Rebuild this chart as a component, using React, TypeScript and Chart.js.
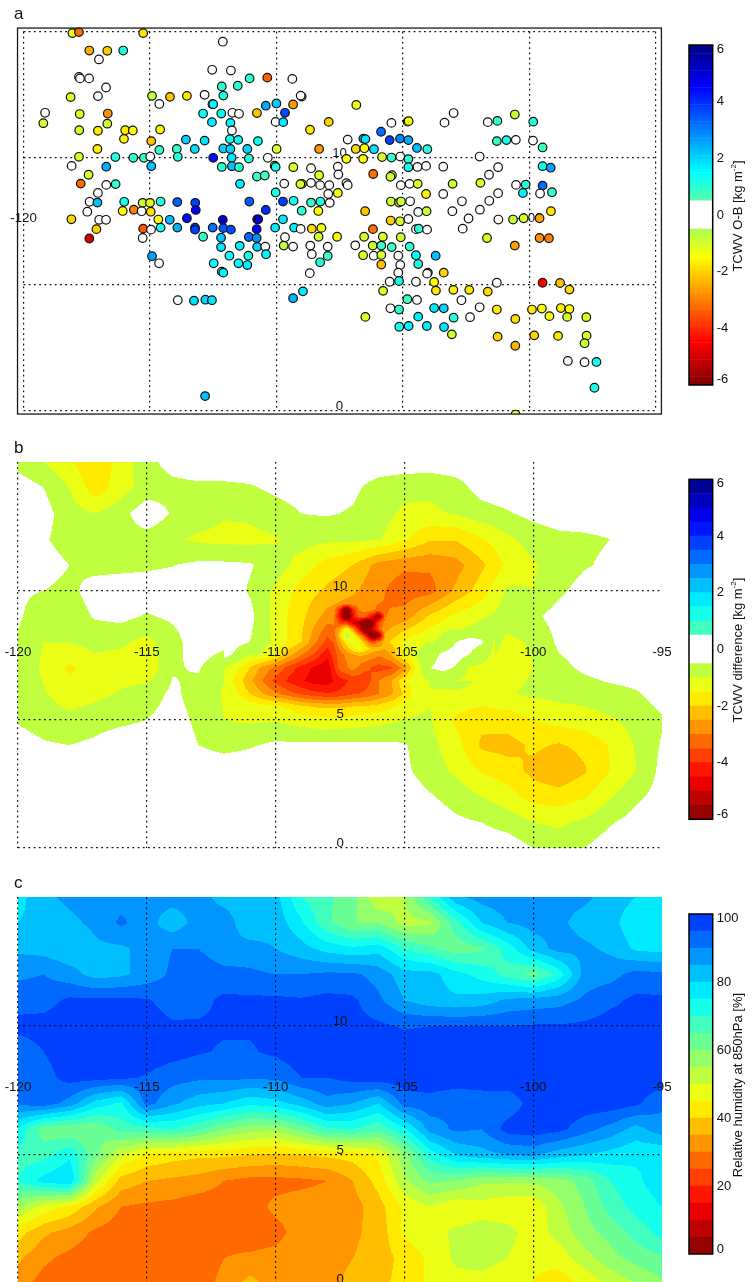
import React, { useEffect, useRef } from "react";
import { Chart, registerables } from "chart.js";

Chart.register(...registerables);

const FONT = '"Liberation Sans", Arial, sans-serif';
const INK = "#111111";

// ---- Panel a: observations (longitude, latitude, TCWV O-B) ----
const obsLon = [
-118.07,-117.81,-115.27,-112.12,-117.4,-116.69,-116.06,-117.02,-112.54,-111.8,-117.81,-117.77,-117.41,-116.74,-117.06,-118.14,-112.16,-111.53,-114.92,-114.21,-113.54,-112.84,-112.1,-114.63,-112.53,-112.5,
-119.15,-119.22,-117.78,-116.67,-116.69,-112.9,-112.18,-111.74,-111.48,-112.55,-111.82,-117.8,-117.06,-115.98,-115.68,-116.03,-114.6,-111.76,-114.95,-113.58,-112.84,-111.84,-111.51,-117.08,-114.63,-113.94,-113.23,-112.1,-111.82,
-117.81,-116.37,-115.66,-115.24,-114.99,-113.9,-112.5,-111.77,-118.1,-116.73,-114.95,-112.16,-111.76,-111.48,-117.43,-117.74,-116.73,-116.36,-111.44,-117.06,
-117.39,-117.08,-116.02,-115.29,-115,-114.58,-113.92,-113.21,-113.19,-111.07,-117.48,-116.08,-115.64,-115.33,-114.97,-118.11,-117.01,-116.74,-114.67,-114.22,-113.54,-112.12,-110.76,-117.12,-115.27,-114.96,-114.58,-113.92,-113.22,-113.22,-112.52,-112.1,-111.8,-110.78,
-117.4,-115.29,-112.9,-112.19,-111.09,-110.78,-112.19,-111.45,-110.76,-114.92,-114.64,-111.86,-111.11,-112.48,-111.5,-111.15,-112.16,-112.1,-113.9,-113.26,-112.81,-112.55,-112.82,
-111.06,-110.36,-109.37,-109,-109.04,-110.42,-110,-109.34,-106.84,-109.66,-110.77,-110.03,-109.73,-107.93,-105.45,-104.81,-104.77,-102.99,-103.35,-108.67,-105.86,-107.18,-106.56,-106.48,-105.52,-105.11,-104.78,-110.73,-111.15,-109.99,-108.31,-106.86,-106.52,-106.14,-104.44,-104.03,
-111.09,-110.34,-107.23,-106.57,-105.82,-105.45,-105.1,-104.78,-110.07,-110.03,-109.33,-108.63,-107.57,-104.78,-104.42,-104.08,-103.4,-107.55,-108.31,-110.77,-110.46,-106.17,-105.43,-105.49,-109.69,-108.99,-109.05,-108.63,-108.27,-107.91,-107.23,-107.18,-105.08,-104.73,-104.41,-103.03,
-110.03,-107.95,-107.57,-104.08,-103.4,-109.74,-109.32,-108.63,-108.26,-107.89,-105.47,-105.15,-105.07,-104.71,-102.66,-110.42,-109,-108.34,-106.49,-104.39,-104.06,-103.04,-110.72,-109.74,-105.48,-105.11,-104.78,-102.4,-110.05,-109.3,-109.04,-108.6,-108.22,-106.18,-104.48,-104.37,-104.04,-102.63,-109.66,-108.33,-107.6,-106.53,-105.79,-105.08,
-109.71,-109.34,-108.66,-107.97,-106.88,-106.19,-105.85,-105.44,-104.73,-110.44,-108.6,-107.97,-106.57,-106.15,-105.85,-105.18,-104.48,-103.7,-110.41,-108.27,-105.85,-105.1,-104.39,-108.68,-105.18,-104.01,-104.04,-103.38,-105.52,-105.15,-104.48,-103.76,-108.95,-105.78,-103.69,-103,-102.37,-109.34,-104.82,-104.44,-102.68,-105.49,-105.15,-103.76,-103.38,-102.34,-106.48,-104.39,-102.99,-105.14,-104.77,-104.05,-103.37,-103.06,
-101.28,-99.47,-98.78,-98.41,-101.64,-101.96,-101.28,-100.55,-99.89,-99.5,-99.2,-98.75,-98.41,-98.5,-97.74,-101.25,-100.55,-99.8,-98.86,-97.73,-97.81,-98.47,-97.81,-97.34,-97.42,-100.54,
-101.64,-101.26,-100.57,-99.84,-101.28,-100.9,-100.53,-99.85,-99.47,-101.96,-101.23,-99.47,-99.15,-101.59,-101.93,-100.52,-100.14,-99.47,-101.23,-100.25,-99.57,-99.1,-101.58,-101.95,-101.22,-100.64,-100.22,-99.59,-99.14,-101.67,-99.59,-99.22,-100.57,
];
const obsLat = [
14.94,14.98,14.94,14.6,14.25,14.24,14.25,13.9,13.49,13.46,13.21,13.15,13.15,12.79,12.45,12.41,12.83,12.86,12.46,12.42,12.46,12.5,12.47,12.14,12.13,12.13,
11.79,11.38,11.74,11.76,11.36,11.76,11.76,11.79,11.75,11.42,11.39,11.1,11.08,11.1,11.09,10.76,11.13,11.09,10.67,10.73,10.69,10.75,10.72,10.36,10.32,10.36,10.36,10.38,10.36,
10.05,10.04,10.01,10.01,10.06,10.05,10.01,10.01,9.69,9.66,9.68,9.65,9.68,9.64,9.34,8.99,8.94,8.97,8.98,8.62,
8.27,8.24,8.27,8.23,8.23,8.28,8.26,8.23,7.95,8.28,7.88,7.91,7.96,7.9,7.88,7.58,7.56,7.56,7.57,7.56,7.62,7.56,7.58,7.19,7.21,7.17,7.25,7.25,7.25,7.17,7.25,7.23,7.17,7.19,
6.82,6.84,6.89,6.85,6.88,6.84,6.48,6.53,6.49,6.12,5.84,6.14,6.14,5.84,5.84,5.77,5.51,5.47,4.38,4.36,4.4,4.38,0.59,
13.15,13.18,13.13,12.43,12.47,12.07,12.16,12.12,12.1,11.79,11.78,11.43,11.42,11.43,11.39,11.44,11.46,11.78,11.4,11.12,11.04,10.73,10.77,10.75,10.71,10.77,10.71,10.67,10.36,10.36,10.36,10.36,10.39,10.35,10.4,10.35,
9.98,10.01,9.97,9.97,10.04,10.02,10.06,9.96,9.7,9.65,9.64,9.6,9.66,9.64,9.65,9.69,9.66,9.35,9.32,9.27,9.31,9.37,9.32,9.26,8.99,8.98,8.97,9.02,8.93,8.93,9.01,8.93,8.93,8.98,8.98,8.98,
8.64,8.58,8.62,8.58,8.58,8.28,8.31,8.24,8.28,8.23,8.28,8.24,8.28,8.29,8.29,7.95,7.92,7.91,7.9,7.87,7.9,7.9,7.58,7.58,7.53,7.5,7.59,7.61,7.25,7.25,7.2,7.21,7.24,7.19,7.19,7.21,7.17,7.21,6.87,6.89,6.89,6.89,6.89,6.87,
6.54,6.5,6.54,6.5,6.55,6.54,6.54,6.48,6.5,6.5,6.2,6.13,6.16,6.14,6.17,6.14,6.16,6.14,6.2,5.88,5.79,5.77,5.81,5.45,5.47,5.47,5.43,5.47,5.11,5.14,5.11,5.1,4.73,4.75,4.76,4.79,4.79,4.46,4.42,4.39,4.38,4.06,4.01,4.07,4.06,3.71,3.72,3.73,3.69,3.33,3.36,3.36,3.32,3.03,
5.07,5.07,5.06,4.8,4.72,4.1,4.01,3.64,4.01,4.05,3.75,4.07,4.03,3.72,3.71,2.94,2.58,2.99,2.97,2.98,2.68,1.98,1.93,1.94,0.92,-0.14,
11.42,11.47,11.72,11.44,10.67,10.71,10.72,10.69,10.42,10.06,9.64,9.68,9.62,9.34,9.02,8.94,8.95,8.91,8.61,8.62,8.6,8.65,8.31,7.96,7.57,7.57,7.62,7.62,7.9,6.84,6.84,6.83,6.54,
];
const obsTcwv = [
-1.2,-3.2,-1.8,0,-2.4,-2.1,1.2,0,0,0,0,0,0,0,0,-1.1,0.9,1,-0.8,-2.2,-1.7,0,1.2,0,0,1.6,
0,-1,-1.2,-2.8,-1,1.4,1.4,0,0,1.7,1.6,-1,-1.7,-1.7,-1.5,-1.6,-1.6,0,-2.2,2,1.8,1.2,1.4,-1.7,0.9,0.9,1.9,2,2,
-1,1.1,1,0.8,0,1.1,4.3,1.8,0,2.4,2.2,1,2.2,1,-1,-3.3,0,0.9,1.7,0,
0,2.2,1.2,-0.9,-1.1,1.1,3.4,3.7,4.6,3.4,0,-1.5,-3,0,-1.9,-2,0,0,-1.5,2.3,4.4,5,4.8,-2.1,-3.5,0,1.3,2.4,3.6,3.8,3.2,3.5,3.6,4.5,
-5,0,0.9,2.2,3.2,2.8,1.8,1.6,2,2.6,0,1.4,1.2,1.5,1.6,1.7,1.1,1.6,0,1.9,2,1.8,2.2,
1,-3.4,0,-2,0,2.5,2.1,-2.7,-1.3,3.7,-2.2,0,1.7,-2,0,-1.1,-1.4,0,0,-1.8,3.2,0,2.4,1.8,3.7,2.9,2.5,1.3,2,-1.1,-2.7,-2,-1.5,1.8,2.3,1.1,
1.1,0,-1.5,-1.5,-1,0.9,0,0.9,-1.7,1.2,-1.1,0,0,1.2,0,0,0,0,-1.1,0.9,0.8,-3.2,-1,-0.9,0,-1,-1.1,0,0,0,0,0,0,0,-1.1,-0.9,
1.2,0,-1.3,-1.6,0,3.8,1.3,0.9,1.2,0,-0.9,-1,-0.9,0,0,4,1,-1.5,-2.2,0,-0.9,0,5,1.8,-2.1,-1,0,0,1.7,1.7,0,-2,-1.3,-3.2,0,1,0,0,0,-0.9,-1.4,-1,-1.1,-0.9,
-0.8,0,0,0,0,-1,0.8,0.8,1,0,0,0.9,-1.1,0,-1,0,1.5,2.2,1.6,1.1,-2.3,0,1.2,0,0,-1,0,-2,0,1.2,0,-1.5,1.7,-1.1,-1.8,-1.7,-1.8,2.4,0.8,0,0,0,1,1.8,2,0,-1.1,1.7,1.1,1.3,1.6,1.7,1.8,-0.9,
0,-4.6,-2.2,-1.9,-1.9,0,-1.7,-1.9,-1.8,-1.5,-1.4,-1.7,-1.5,-1,-1.1,-2,-2.4,-2,-1.8,-1.1,-0.9,0,0,1.3,1.2,-1,
0,0.9,-0.9,1.1,0.9,1.2,0,0,0.8,0,0,1.3,2.6,0,-1.2,0,1,3.2,0,1.6,0,0.9,0,0,0,-0.8,-1.1,-2.6,-1.8,-1.1,-2.8,-3,-2.6,
];

// ---- Panels b, c: gridded fields, one row per latitude, one column per longitude ----
const gridLons = [-120,-119,-118,-117,-116,-115,-114,-113,-112,-111,-110,-109,-108,-107,-106,-105,-104,-103,-102,-101,-100,-99,-98,-97,-96,-95];
const gridLats = [15,14,13,12,11,10,9,8,7,6,5,4,3,2,1,0];

const tcwvDifference = [
[-0.7,-1,-1.45,-1.9,-1.3,-0.65,-0.3,-0.2,-0.2,-0.2,-0.2,-0.2,-0.2,-0.2,-0.2,-0.2,-0.2,-0.2,-0.2,-0.2,-0.2,-0.2,-0.2,-0.2,-0.2,-0.2],
[-0.2,-0.5,-1,-1.8,-1.2,-0.8,-0.65,-0.6,-0.6,-0.55,-0.4,-0.3,-0.3,-0.4,-0.7,-0.85,-0.9,-0.7,-0.3,-0.2,-0.2,-0.2,-0.2,-0.2,-0.2,-0.2],
[-0.2,-0.3,-0.8,-1,-0.7,-0.15,-0.55,-0.7,-0.95,-0.9,-0.7,-0.5,-0.45,-0.55,-0.8,-1.1,-1.1,-0.95,-0.7,-0.55,-0.35,-0.2,-0.2,-0.2,-0.2,-0.2],
[-0.2,-0.45,-0.7,-0.75,-0.7,-0.7,-0.9,-1.1,-1.15,-1.15,-1.05,-0.8,-0.9,-0.9,-0.95,-1.4,-1.95,-1.95,-1.55,-1.1,-0.8,-0.65,-0.6,-0.5,-0.2,-0.2],
[-0.2,-0.3,-0.5,-0.65,-0.65,-0.6,-0.52,-0.4,-0.4,-0.45,-0.75,-1.2,-1.7,-2,-2.7,-2.9,-2.9,-2.7,-2.1,-1.4,-1.05,-0.8,-0.55,-0.4,-0.2,-0.2],
[-0.45,-0.5,-0.62,-0.3,-0.2,-0.2,-0.2,-0.2,-0.2,-0.55,-1.1,-1.7,-2.1,-2.4,-2.9,-3.3,-3.2,-2.4,-1.75,-0.9,-1,-0.6,-0.3,-0.2,-0.2,-0.2],
[-0.45,-0.7,-0.75,-0.45,-0.35,-0.55,-0.4,-0.2,-0.2,-0.35,-1.2,-1.85,-2.7,-3,-3.1,-2.8,-1.9,-1.35,-1.05,-0.8,-0.6,-0.3,-0.2,-0.2,-0.2,-0.2],
[-0.55,-1,-0.98,-0.85,-0.92,-1.15,-0.72,-0.15,-0.3,-0.5,-1.1,-2,-3.7,-2.8,-2.5,-1.35,-0.95,-0.75,-0.65,-1.1,-0.95,-0.4,-0.2,-0.2,-0.2,-0.2],
[-0.6,-1.1,-1.6,-1.2,-1.25,-1.4,-0.55,-0.45,-0.95,-2,-3.1,-4.2,-4.9,-2.8,-3.7,-2.8,-0.55,-0.45,-1.05,-1.2,-1,-0.65,-0.4,-0.2,-0.2,-0.2],
[-0.6,-0.95,-1.3,-1.15,-0.95,-0.75,-0.4,-0.7,-1.05,-2,-2.9,-3.6,-3.95,-3.6,-3,-1.9,-1.1,-1.1,-1.15,-1.05,-0.9,-0.85,-0.8,-0.7,-0.55,-0.3],
[-0.55,-0.7,-0.85,-0.7,-0.62,-0.5,-0.3,-0.6,-1,-1.1,-1.05,-1.25,-1.4,-1.3,-1.2,-1,-0.95,-1.6,-1.85,-1.75,-1.5,-1.3,-1.2,-1.05,-0.8,-0.55],
[-0.3,-0.45,-0.5,-0.4,-0.2,-0.2,-0.2,-0.5,-0.65,-0.55,-0.4,-0.4,-0.4,-0.4,-0.4,-0.45,-0.85,-1.3,-2.1,-2.2,-1.9,-2.05,-1.85,-1.45,-0.95,-0.45],
[-0.2,-0.2,-0.2,-0.2,-0.2,-0.2,-0.2,-0.2,-0.2,-0.2,-0.2,-0.2,-0.2,-0.2,-0.2,-0.4,-0.75,-1.1,-1.55,-1.75,-2.15,-2.45,-2.05,-1.5,-1,-0.35],
[-0.2,-0.2,-0.2,-0.2,-0.2,-0.2,-0.2,-0.2,-0.2,-0.2,-0.2,-0.2,-0.2,-0.2,-0.2,-0.2,-0.45,-0.7,-1,-1.3,-1.7,-1.75,-1.55,-1.05,-0.6,-0.3],
[-0.2,-0.2,-0.2,-0.2,-0.2,-0.2,-0.2,-0.2,-0.2,-0.2,-0.2,-0.2,-0.2,-0.2,-0.2,-0.2,-0.2,-0.4,-0.5,-0.7,-1,-1.1,-0.9,-0.55,-0.3,-0.2],
[-0.2,-0.2,-0.2,-0.2,-0.2,-0.2,-0.2,-0.2,-0.2,-0.2,-0.2,-0.2,-0.2,-0.2,-0.2,-0.2,-0.2,-0.2,-0.2,-0.2,-0.5,-0.7,-0.5,-0.2,-0.2,-0.2],
];

// Finer sampling of the low-value lobe of panel b
const lobeLons = [-112,-111.5,-111,-110.5,-110,-109.5,-109,-108.5,-108,-107.5,-107,-106.5,-106,-105.5,-105,-104.5,-104];
const lobeLats = [8,7.5,7,6.5,6,5.5,5];
const tcwvDifferenceLobe = [
[-0.3,-0.4,-0.5,-0.8,-1.1,-1.55,-2,-2.85,-3.7,-3.25,-2.8,-2.65,-2.5,-1.9,-1.35,-1.15,-0.95],
[-0.35,-0.6,-0.95,-1.05,-1.6,-2.3,-3,-3.6,-4.4,-3.2,-2.7,-2.6,-3,-2.5,-1.4,-0.95,-0.7],
[-0.95,-1.35,-2,-2.7,-3.1,-3.7,-4.2,-4.6,-4.9,-3.3,-2.8,-3.4,-3.7,-3.6,-2.8,-1.2,-0.55],
[-1.15,-1.7,-2.4,-3,-3.7,-4.1,-4.45,-4.7,-4.8,-4.2,-3.9,-3.8,-3,-2.5,-1.6,-1.1,-1],
[-1.05,-1.45,-2,-2.5,-2.9,-3.3,-3.6,-3.85,-3.95,-3.9,-3.6,-3.4,-3,-2.6,-1.9,-1.2,-1.1],
[-1.05,-1.1,-1.2,-1.3,-1.45,-1.6,-1.9,-2.05,-2.1,-2.1,-2,-1.95,-1.8,-1.55,-1.3,-1.1,-1],
[-1,-1.15,-1.1,-1.1,-1.05,-1.15,-1.25,-1.3,-1.4,-1.4,-1.3,-1.2,-1.2,-1.1,-1,-0.95,-0.95],
];

// Finer sampling of the small core of panel b
const coreLons = [-107.75,-107.5,-107.25,-107,-106.75,-106.5,-106.25,-106,-105.75];
const coreLats = [9.5,9.25,9,8.75,8.5,8.25,8,7.75,7.5,7.25];
const tcwvDifferenceCore = [
[-2.5,-2.6,-2.7,-2.7,-2.75,-2.85,-2.95,-3,-3],
[-2.65,-4.2,-7,-4.2,-3,-2.8,-2.9,-3.1,-3],
[-2.77,-4.6,-7,-4.5,-3.2,-3.4,-4.5,-6,-3],
[-3,-3.7,-3.8,-5,-5.6,-7.2,-6,-3.5,-2.8],
[-3.2,-2.5,-1.2,-2.6,-4.5,-7.2,-5,-3.5,-2.6],
[-3.35,-2,-0.7,-1.2,-2.6,-4.2,-6.6,-6.2,-2.4],
[-3.47,-2.6,-1.7,-1.1,-1.4,-2.5,-3.5,-3,-2.2],
[-3.7,-2.9,-2.3,-1.6,-1.3,-1.7,-2.2,-2.3,-2.5],
[-3.8,-3.2,-2.9,-2.6,-2.4,-2.5,-2.7,-2.9,-2.8],
[-3.95,-3.25,-3,-2.75,-2.88,-3,-3.18,-3.35,-3.2],
];

// Finer sampling round the long gap of panel b
const gapLons = [-104,-103.5,-103,-102.5,-102,-101.5];
const gapLats = [8.5,8,7.5,7,6.5];
const tcwvDifferenceGap = [
[-1.3,-1.05,-1,-0.95,-0.7,-0.85],
[-1.05,-0.85,-0.5,-0.3,-0.45,-1.05],
[-0.7,-0.4,-0.3,-0.5,-0.8,-1.1],
[-0.5,-0.35,-0.55,-1.05,-1.1,-1.2],
[-1,-0.9,-1,-1.1,-1.15,-1.15],
];

const humidity850 = [
[78,84,86,87,88,87,87,87,83,82,82,70,66,62,50,55,70,84,87,88,88,87,86,83,80,76],
[80,82,84,86,91,87,82,87,88,81,83,76,66,60,60,53,54,68,80,85,87,86,83,82,76,75],
[84,83,81,84,84,87,90,90,86,87,85,82,78,76,78,70,66,62,64,72,82,87,86,84,79,78],
[89,90,87,83,84,87,91,94,92,91,90,90,91,91,88,82,82,77,73,68,63,72,87,88,92,91],
[93,93,96,96,96,95.5,93,93.5,96,96,96,95.5,96.5,96,91,85,82,81,82,86,87,88,91,94,96,96],
[96.5,97,98,98,98,97,95.6,95.6,95.6,95.6,96,97,98,97,96,94.5,95,95,95,95,95.5,95.5,96,97,96,96],
[92,95,98,98,98,98,97,95.5,94.5,94.5,96,98,98,98,98,98,98,98,98,98,98,98,98,97,95,97],
[91,93,97,97,96,94.5,92,91,91,91,91,95,95,97,98,98,98,98,98,98,98,98,98,98,98,98],
[91,93,88,78,74,92,86,82,80,76,78,82,88,85,80,92,93,91,92,92,97,98,98,98,96,91],
[74,62,60,60,67,68,70,66,60,57,56,62,69,70,66,74,87,91,90,97,98,96.5,92,88,83,88],
[68,68,74,62,50,44,42,41,41,40,39,40,41,42,46,58,72,80,83,85,86,82,80,78,76,75],
[70,77,80,52,38,35,34,33,30,28.5,28.5,29,30,35,42,54,61,60,56,56,56,58,62,70,74,78],
[56,48,44,36,30,29,28.5,27,27,28,31,32,32,33,38,46,50,46,48,46,46,54,60,67,72,75],
[42,36,33,29,27,27,27,28,28,27,28.5,32,33,34,37,46,48,51,52,52,47,52,58,62,67,72],
[36,31,28.5,27,26,27,27,28,30,31,31.5,32.5,33.5,35,37,42,46,51,52,50,46,47,53,58,62,64],
[32,28,27,27,27,27,27.5,28.5,31,37,32,33,34,36,38.5,42,46,48,48,46,45,42,46,51,55,59],
];

// ---- Axis labels ----
const lonTicksA = [-120, -100];
const latTicksA = [0, 10];
const lonTicksFull = [-120, -115, -110, -105, -100, -95];
const latTicksFull = [0, 5, 10];
const tcwvBarTicks = [5.86, 4, 2, 0, -2, -4, -5.82];
const tcwvBarLabels = ["6", "4", "2", "0", "-2", "-4", "-6"];
const rhBarTicks = [98.7, 80, 60, 40, 20, 1.4];
const rhBarLabels = ["100", "80", "60", "40", "20", "0"];

// ---- Colour map ----
const clamp01 = (v: number) => Math.max(0, Math.min(1, v));
function jet(t: number) {
  const r = clamp01(1.5 - Math.abs(4 * t - 3));
  const g = clamp01(1.5 - Math.abs(4 * t - 2));
  const b = clamp01(1.5 - Math.abs(4 * t - 1));
  return `rgb(${Math.round(r * 255)},${Math.round(g * 255)},${Math.round(b * 255)})`;
}
const tcwvColor = (v: number) => (Math.abs(v) < 0.5 ? "#ffffff" : jet((6 - v) / 12));
const bandColor = (k: number) => jet((23 - k + 0.5) / 24);
const tcwvBand = (v: number) => {
  const k = Math.max(0, Math.min(23, Math.floor((v + 6) / 0.5)));
  return k === 11 || k === 12 ? null : bandColor(k);
};
const rhBand = (v: number) => bandColor(Math.max(0, Math.min(19, Math.floor(v / 5))));

// ---- Field sampling for the filled contours ----
function bilinear(lons: number[], lats: number[], rows: number[][], lon: number, lat: number) {
  if (lon < lons[0] || lon > lons[lons.length - 1] || lat > lats[0] || lat < lats[lats.length - 1]) return null;
  let i = 0;
  while (i < lons.length - 2 && lon > lons[i + 1]) i++;
  let j = 0;
  while (j < lats.length - 2 && lat < lats[j + 1]) j++;
  const u = (lon - lons[i]) / (lons[i + 1] - lons[i]);
  const w = (lats[j] - lat) / (lats[j] - lats[j + 1]);
  return (
    rows[j][i] * (1 - u) * (1 - w) +
    rows[j][i + 1] * u * (1 - w) +
    rows[j + 1][i] * (1 - u) * w +
    rows[j + 1][i + 1] * u * w
  );
}

const contourPlugin = (sample: (lon: number, lat: number) => number | null, band: (v: number) => string | null) => ({
  id: "contourFill",
  beforeDraw(chart: any) {
    const { ctx, chartArea, scales } = chart;
    const x0 = Math.round(chartArea.left);
    const x1 = Math.round(chartArea.right);
    ctx.save();
    for (let py = Math.round(chartArea.top); py < chartArea.bottom; py++) {
      const lat = scales.y.getValueForPixel(py + 0.5);
      let start = x0;
      let current: string | null = null;
      for (let px = x0; px <= x1; px++) {
        const v = px < x1 ? sample(scales.x.getValueForPixel(px + 0.5), lat) : null;
        const c = v === null ? null : band(v);
        if (c !== current || px === x1) {
          if (current) {
            ctx.fillStyle = current;
            ctx.fillRect(start, py, px - start, 1);
          }
          start = px;
          current = c;
        }
      }
    }
    ctx.restore();
  },
});

const framePlugin = {
  id: "mapFrame",
  afterDraw(chart: any) {
    const { ctx, scales } = chart;
    const l = scales.x.getPixelForValue(-120.24);
    const r = scales.x.getPixelForValue(-94.77);
    const t = scales.y.getPixelForValue(15.14);
    const b = scales.y.getPixelForValue(-0.12);
    ctx.save();
    ctx.strokeStyle = "#1a1a1a";
    ctx.lineWidth = 1.3;
    ctx.strokeRect(l, t, r - l, b - t);
    ctx.restore();
  },
};

const barFramePlugin = {
  id: "barFrame",
  afterDraw(chart: any) {
    const { ctx, chartArea: a } = chart;
    ctx.save();
    ctx.strokeStyle = "#000";
    ctx.lineWidth = 1.5;
    ctx.strokeRect(a.left, a.top, a.right - a.left, a.bottom - a.top);
    ctx.restore();
  },
};

function mapScales(lonLabels: number[], latLabels: number[], hideEdges: boolean) {
  const dotted = (edge: number) => (ctx: any) =>
    hideEdges && ctx.tick && ctx.tick.value === edge ? "rgba(0,0,0,0)" : "#111111";
  return {
    x: {
      type: "linear",
      min: -120,
      max: -95,
      position: { y: 7.93 },
      grid: { color: dotted(-95), lineWidth: 1.2, drawTicks: false },
      border: { display: false, dash: [1.8, 3.4] },
      ticks: {
        stepSize: 5,
        autoSkip: false,
        maxRotation: 0,
        padding: 0,
        color: INK,
        font: { family: FONT, size: 13.3 },
        callback: (v: number) => (lonLabels.includes(v) ? String(v) : ""),
      },
    },
    y: {
      type: "linear",
      min: 0,
      max: 15,
      position: { x: -107.21 },
      grid: { color: dotted(15), lineWidth: 1.2, drawTicks: false },
      border: { display: false, dash: [1.8, 3.4] },
      ticks: {
        stepSize: 5,
        autoSkip: false,
        padding: 0,
        labelOffset: -4.5,
        color: INK,
        font: { family: FONT, size: 13.3 },
        callback: (v: number) => (latLabels.includes(v) ? (v < 10 ? `${v}\u00A0` : String(v)) : ""),
      },
    },
  };
}

function gridDataset(rows: number[][]) {
  const points: { x: number; y: number }[] = [];
  rows.forEach((row, j) => row.forEach((_, i) => points.push({ x: gridLons[i], y: gridLats[j] })));
  return { type: "scatter", data: points, pointRadius: 0, pointHoverRadius: 0, showLine: false };
}

const baseOptions = { responsive: false, animation: false, events: [], plugins: { legend: { display: false }, tooltip: { enabled: false }, title: { display: false } } };

function scatterConfig() {
  const data = obsLon.map((x, i) => ({ x, y: obsLat[i] }));
  const colors = obsLon.map((_, i) => tcwvColor(obsTcwv[i] ?? 0));
  return {
    type: "scatter",
    data: {
      datasets: [
        {
          data,
          pointRadius: 4.3,
          pointBorderWidth: 1.2,
          pointBorderColor: "#101010",
          pointBackgroundColor: colors,
          showLine: false,
          clip: { left: 6, right: 6, top: 4, bottom: 3 },
        },
      ],
    },
    options: { ...baseOptions, layout: { padding: { left: 23.6, right: 24.4, top: 31.6, bottom: 19 } }, scales: mapScales(lonTicksA, latTicksA, false) },
    plugins: [framePlugin],
  };
}

function contourConfig(rows: number[][], sample: (lon: number, lat: number) => number | null, band: (v: number) => string | null, padding: any) {
  return {
    type: "scatter",
    data: { datasets: [gridDataset(rows)] },
    options: { ...baseOptions, layout: { padding }, scales: mapScales(lonTicksFull, latTicksFull, true) },
    plugins: [contourPlugin(sample, band)],
  };
}

function barConfig(bands: { lo: number; hi: number; color: string }[], min: number, max: number, ticks: number[], labels: string[], padding: any) {
  return {
    type: "bar",
    data: {
      labels: ["scale"],
      datasets: bands.map((b) => ({ data: [[b.lo, b.hi]], backgroundColor: b.color, barPercentage: 1, categoryPercentage: 1, borderWidth: 0 })),
    },
    options: {
      ...baseOptions,
      layout: { padding },
      scales: {
        x: { stacked: true, display: false },
        y: {
          min,
          max,
          position: "right",
          stacked: false,
          grid: { display: false, drawTicks: false },
          border: { display: false },
          afterFit: (s: any) => { s.width = 36; },
          afterBuildTicks: (s: any) => { s.ticks = ticks.map((value) => ({ value })); },
          ticks: {
            autoSkip: false,
            padding: 4,
            color: INK,
            font: { family: FONT, size: 13 },
            callback: (_: number, i: number) => labels[i],
          },
        },
      },
    },
    plugins: [barFramePlugin],
  };
}

const continuousSteps = Array.from({ length: 120 }, (_, i) => -6 + i * 0.1);
const tcwvContinuous = continuousSteps.map((lo) => ({ lo, hi: lo + 0.1, color: tcwvColor(lo + 0.05) }));
const tcwvSteps = Array.from({ length: 24 }, (_, k) => k);
const tcwvBands = tcwvSteps.map((k) => ({ lo: -6 + k * 0.5, hi: -5.5 + k * 0.5, color: k === 11 || k === 12 ? "#ffffff" : bandColor(k) }));
const rhSteps = Array.from({ length: 20 }, (_, k) => k);
const rhBands = rhSteps.map((k) => ({ lo: k * 5, hi: (k + 1) * 5, color: bandColor(k) }));

const sampleDifference = (lon: number, lat: number) =>
  bilinear(coreLons, coreLats, tcwvDifferenceCore, lon, lat) ??
  bilinear(gapLons, gapLats, tcwvDifferenceGap, lon, lat) ??
  bilinear(lobeLons, lobeLats, tcwvDifferenceLobe, lon, lat) ??
  bilinear(gridLons, gridLats, tcwvDifference, lon, lat);
const sampleHumidity = (lon: number, lat: number) => bilinear(gridLons, gridLats, humidity850, lon, lat);

function ChartCanvas({ left, top, width, height, make }: { left: number; top: number; width: number; height: number; make: () => any }) {
  const ref = useRef<HTMLCanvasElement | null>(null);
  useEffect(() => {
    if (!ref.current) return;
    const chart = new Chart(ref.current, make());
    return () => chart.destroy();
  }, []);
  return <canvas ref={ref} width={width} height={height} style={{ position: "absolute", left, top, width, height, display: "block" }} />;
}

function Letter({ text, top }: { text: string; top: number }) {
  return <div style={{ position: "absolute", left: 14, top, font: `17px ${FONT}`, color: INK, lineHeight: "20px" }}>{text}</div>;
}

function BarTitle({ children, centerY }: { children: React.ReactNode; centerY: number }) {
  return (
    <div style={{ position: "absolute", left: 737, top: centerY, transform: "translate(-50%,-50%) rotate(-90deg)", whiteSpace: "nowrap", font: `13px ${FONT}`, color: INK, lineHeight: "15px" }}>
      {children}
    </div>
  );
}

const unitSup = <sup style={{ fontSize: 8, lineHeight: 0 }}>-2</sup>;

export default function App() {
  return (
    <div style={{ position: "absolute", left: 0, top: 0, width: 752, height: 1282, overflow: "hidden", background: "#fff" }}>
      <ChartCanvas left={0} top={0} width={680} height={430} make={scatterConfig} />
      <ChartCanvas left={0} top={440} width={680} height={430}
        make={() => contourConfig(tcwvDifference, sampleDifference, tcwvBand, { left: 18, right: 18, top: 22, bottom: 22 })} />
      <ChartCanvas left={0} top={875} width={680} height={429}
        make={() => contourConfig(humidity850, sampleHumidity, rhBand, { left: 18, right: 18, top: 22, bottom: 20 })} />

      <ChartCanvas left={670} top={30} width={82} height={370}
        make={() => barConfig(tcwvContinuous, -6, 6, tcwvBarTicks, tcwvBarLabels, { left: 19, right: 3.3, top: 15, bottom: 15 })} />
      <ChartCanvas left={670} top={465} width={82} height={370}
        make={() => barConfig(tcwvBands, -6, 6, tcwvBarTicks, tcwvBarLabels, { left: 19, right: 3.3, top: 14.3, bottom: 15.7 })} />
      <ChartCanvas left={670} top={900} width={82} height={370}
        make={() => barConfig(rhBands, 0, 100, rhBarTicks, rhBarLabels, { left: 19, right: 3.3, top: 14, bottom: 16 })} />

      <Letter text="a" top={4} />
      <Letter text="b" top={438} />
      <Letter text="c" top={873} />
      <BarTitle centerY={216}>TCWV O-B [kg m{unitSup}]</BarTitle>
      <BarTitle centerY={650}>TCWV difference [kg m{unitSup}]</BarTitle>
      <BarTitle centerY={1085}>Relative humidity at 850hPa [%]</BarTitle>
    </div>
  );
}
